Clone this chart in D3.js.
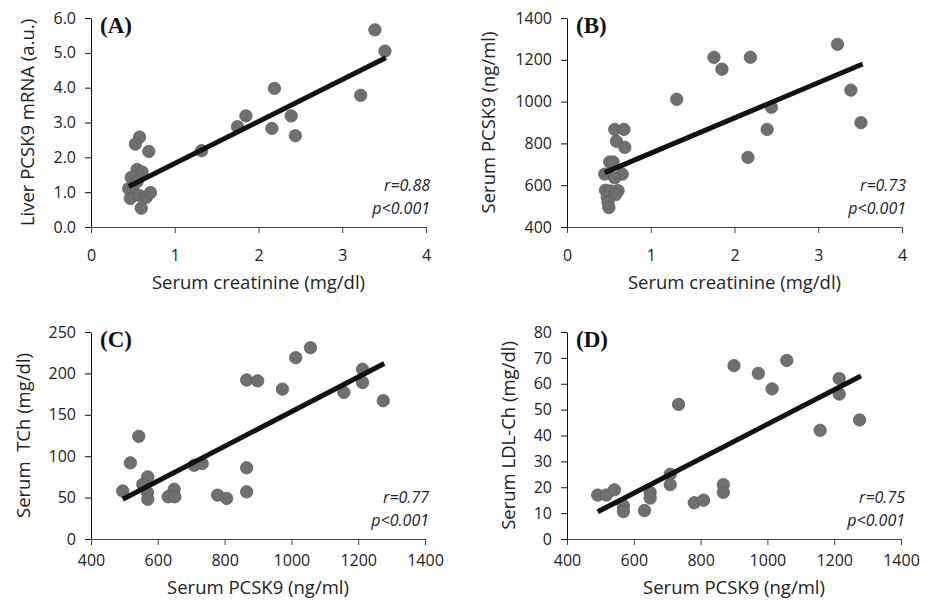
<!DOCTYPE html>
<html>
<head>
<meta charset="utf-8">
<script src="https://cdn.jsdelivr.net/npm/d3@7"></script>
<style>
  body { margin: 0; background: #fff; }
  svg text { font-family: "Open Sans", Lato, sans-serif; fill: #222; }
  .axis-label { font-size: 18.5px; }
  .panel-label { font-family: "Liberation Serif", serif; font-weight: bold; font-size: 23px; fill: #111; }
  .stat { font-style: italic; font-size: 16px; }
</style>
</head>
<body>
<svg width="930" height="600"></svg>
<script>
// (A) serum creatinine vs liver PCSK9 mRNA
const aCreat = [3.39, 3.51, 3.22, 2.19, 2.39, 2.44, 2.16, 1.85, 1.75, 1.32, 0.58, 0.53, 0.69, 0.55, 0.61, 0.48, 0.55, 0.45, 0.50, 0.47, 0.58, 0.66, 0.71, 0.60];
const aMrna = [5.66, 5.05, 3.78, 3.98, 3.19, 2.62, 2.83, 3.19, 2.88, 2.19, 2.58, 2.38, 2.17, 1.65, 1.58, 1.42, 1.30, 1.10, 1.05, 0.82, 0.90, 0.85, 0.99, 0.54];
const aFitX = [0.45, 3.52];
const aFitY = [1.16, 4.86];

// (B) serum creatinine vs serum PCSK9
const bCreat = [3.23, 3.39, 3.51, 1.755, 1.85, 2.19, 2.44, 2.39, 2.16, 1.31, 0.57, 0.68, 0.59, 0.69, 0.51, 0.55, 0.45, 0.66, 0.57, 0.61, 0.46, 0.52, 0.48, 0.58, 0.49, 0.50];
const bPcsk9 = [1274, 1055, 899, 1212, 1155, 1212, 973, 867, 733, 1011, 867, 867, 810, 781, 711, 711, 653, 653, 635, 574, 576, 572, 545, 555, 518, 493];
const bFitX = [0.45, 3.53];
const bFitY = [660, 1180];

// (C) serum PCSK9 vs serum TCh
const cPcsk9 = [1057, 1013, 866, 899, 973, 1213, 1213, 1157, 1275, 543, 518, 709, 733, 866, 866, 570, 555, 569, 570, 495, 649, 631, 651, 779, 806];
const cTch = [231, 219, 192, 191, 181, 205, 189, 177, 167, 124, 92, 89, 91, 86, 57, 75, 66, 56, 48, 58, 60, 51, 51, 53, 49];
const cFitX = [495, 1278];
const cFitY = [48, 212];

// (D) serum PCSK9 vs serum LDL-Ch
const dPcsk9 = [900, 973, 1014, 1058, 1215, 1215, 1158, 1276, 734, 492, 518, 542, 569, 569, 632, 649, 649, 709, 709, 781, 809, 868, 868];
const dLdl = [67, 64, 58, 69, 62, 56, 42, 46, 52, 17, 17, 19, 12.8, 10.6, 11, 18, 15.8, 25, 21, 14, 15, 21, 18];
const dFitX = [492, 1280];
const dFitY = [10.5, 63];

const creatTicks = [0, 1, 2, 3, 4];
const pcskTicks = [400, 600, 800, 1000, 1200, 1400];
const mrnaTicks = [0, 1, 2, 3, 4, 5, 6];
const tchTicks = [0, 50, 100, 150, 200, 250];
const ldlTicks = [0, 10, 20, 30, 40, 50, 60, 70, 80];

const panels = [
  { tag: '(A)', xs: aCreat, ys: aMrna, fx: aFitX, fy: aFitY, xt: creatTicks, yt: mrnaTicks, yfmt: d3.format('.1f'),
    xLabel: 'Serum creatinine (mg/dl)', yLabel: 'Liver PCSK9 mRNA (a.u.)', r: 'r=0.88', p: 'p<0.001',
    left: 91, right: 426, top: 18, bottom: 227, yLabelX: 28, xPad: 16.5, titleOff: 62 },
  { tag: '(B)', xs: bCreat, ys: bPcsk9, fx: bFitX, fy: bFitY, xt: creatTicks, yt: pcskTicks, yfmt: d3.format('d'),
    xLabel: 'Serum creatinine (mg/dl)', yLabel: 'Serum PCSK9 (ng/ml)', r: 'r=0.73', p: 'p<0.001',
    left: 567, right: 902, top: 18, bottom: 227, yLabelX: 489, xPad: 16.5, titleOff: 62 },
  { tag: '(C)', xs: cPcsk9, ys: cTch, fx: cFitX, fy: cFitY, xt: pcskTicks, yt: tchTicks, yfmt: d3.format('d'),
    xLabel: 'Serum PCSK9 (ng/ml)', yLabel: 'Serum  TCh (mg/dl)', r: 'r=0.77', p: 'p<0.001',
    left: 91, right: 425, top: 332, bottom: 539, yLabelX: 24, xPad: 9.5, titleOff: 55 },
  { tag: '(D)', xs: dPcsk9, ys: dLdl, fx: dFitX, fy: dFitY, xt: pcskTicks, yt: ldlTicks, yfmt: d3.format('d'),
    xLabel: 'Serum PCSK9 (ng/ml)', yLabel: 'Serum LDL-Ch (mg/dl)', r: 'r=0.75', p: 'p<0.001',
    left: 567, right: 901, top: 332, bottom: 539, yLabelX: 509, xPad: 9.5, titleOff: 55 }
];

const svg = d3.select('svg');

panels.forEach(p => {
  const x = d3.scaleLinear()
    .domain(d3.extent(p.xt))
    .range([p.left, p.right]);
  const y = d3.scaleLinear()
    .domain(d3.extent(p.yt))
    .range([p.bottom, p.top]);

  const g = svg.append('g');

  const xAxisG = g.append('g')
    .attr('transform', `translate(0,${p.bottom})`)
    .call(d3.axisBottom(x).tickValues(p.xt).tickFormat(d3.format('d'))
      .tickSize(6).tickSizeOuter(0).tickPadding(p.xPad));
  const yAxisG = g.append('g')
    .attr('transform', `translate(${p.left},0)`)
    .call(d3.axisLeft(y).tickValues(p.yt).tickFormat(p.yfmt)
      .tickSize(6).tickSizeOuter(0).tickPadding(9));

  xAxisG.selectAll('path, line').attr('stroke', '#444');
  yAxisG.selectAll('path, line').attr('stroke', '#111');
  g.selectAll('.tick text')
    .attr('font-family', '"Open Sans", sans-serif')
    .attr('font-size', 16)
    .attr('fill', '#222');

  g.append('text')
    .attr('class', 'axis-label')
    .attr('x', (p.left + p.right) / 2)
    .attr('y', p.bottom + p.titleOff)
    .attr('text-anchor', 'middle')
    .text(p.xLabel);

  g.append('text')
    .attr('class', 'axis-label')
    .attr('transform', `translate(${p.yLabelX},${(p.top + p.bottom) / 2}) rotate(-90)`)
    .attr('dy', '0.35em')
    .attr('text-anchor', 'middle')
    .style('white-space', 'pre')
    .text(p.yLabel);

  g.append('g').selectAll('circle')
    .data(d3.zip(p.xs, p.ys))
    .enter().append('circle')
      .attr('cx', d => x(d[0]))
      .attr('cy', d => y(d[1]))
      .attr('r', 6.2)
      .attr('fill', '#6f6f6f')
      .attr('stroke', '#5e5e5e')
      .attr('stroke-width', 0.8);

  g.append('path')
    .datum(d3.zip(p.fx, p.fy))
    .attr('d', d3.line().x(d => x(d[0])).y(d => y(d[1])))
    .attr('stroke', '#111')
    .attr('stroke-width', 5)
    .attr('fill', 'none');

  g.append('text')
    .attr('class', 'panel-label')
    .attr('x', p.left + 9)
    .attr('y', p.top + 15)
    .text(p.tag);

  g.append('text')
    .attr('class', 'stat')
    .attr('x', p.right + 4)
    .attr('y', p.bottom - 36)
    .attr('text-anchor', 'end')
    .text(p.r);
  g.append('text')
    .attr('class', 'stat')
    .attr('x', p.right + 4)
    .attr('y', p.bottom - 13)
    .attr('text-anchor', 'end')
    .text(p.p);
});
</script>
</body>
</html>
